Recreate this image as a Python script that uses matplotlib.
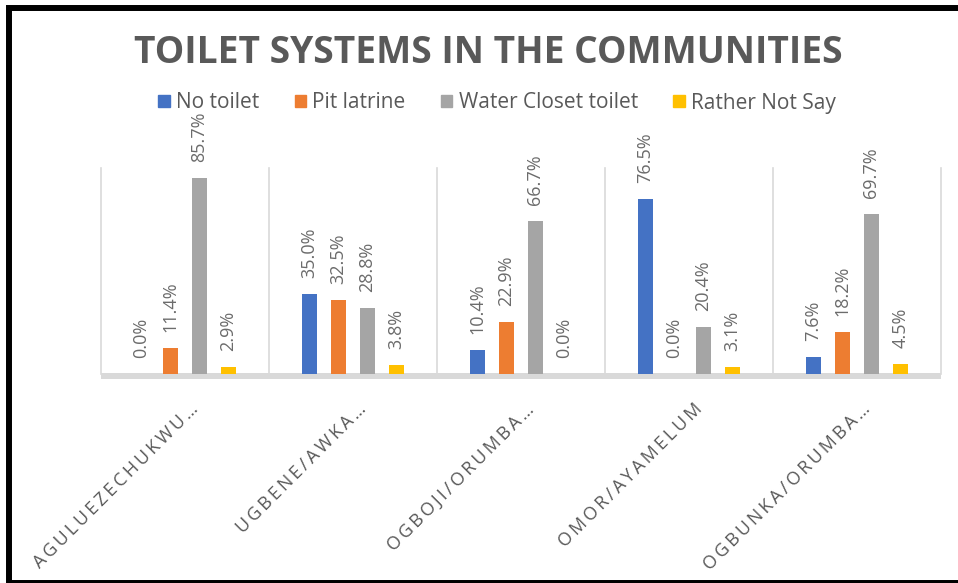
import matplotlib
matplotlib.use("Agg")
import matplotlib.pyplot as plt
from matplotlib.patches import Rectangle
import numpy as np

# Data
communities = ["AGULUEZECHUKWU…", "UGBENE/AWKA…", "OGBOJI/ORUMBA…",
               "OMOR/AYAMELUM", "OGBUNKA/ORUMBA…"]
series_names = ["No toilet", "Pit latrine", "Water Closet toilet", "Rather Not Say"]
no_toilet = [0.0, 35.0, 10.4, 76.5, 7.6]
pit_latrine = [11.4, 32.5, 22.9, 0.0, 18.2]
water_closet = [85.7, 28.8, 66.7, 20.4, 69.7]
rather_not_say = [2.9, 3.8, 0.0, 3.1, 4.5]
series_values = [no_toilet, pit_latrine, water_closet, rather_not_say]
colors = ["#4472C4", "#ED7D31", "#A5A5A5", "#FFC000"]

W, H = 958, 583
fig = plt.figure(figsize=(W / 100, H / 100), dpi=100)
fig.patch.set_facecolor("white")

ax = fig.add_axes([101 / W, 1 - 374 / H, 840 / W, 206 / H])
ax.set_xlim(-0.5, len(communities) - 0.5)
ax.set_ylim(0, 90)

x = np.arange(len(communities))
offsets = [-0.259, -0.086, 0.086, 0.259]
bar_w = 0.09
label_color = "#6b6b6b"

for vals, off, col in zip(series_values, offsets, colors):
    bars = ax.bar(x + off, vals, width=bar_w, color=col, zorder=3)
    for b, v in zip(bars, vals):
        ax.annotate(f"{v:.1f}%", (b.get_x() + b.get_width() / 2, b.get_height()),
                    xytext=(0, 11.5), textcoords="offset points",
                    rotation=90, ha="center", va="bottom",
                    fontsize=13, color=label_color, family="Open Sans",
                    annotation_clip=False)

# Group separators
for sep in np.arange(-0.5, len(communities), 1.0):
    ax.plot([sep, sep], [0, 90], color="#d9d9d9", lw=1.2, zorder=1, clip_on=False)

for side in ["top", "right", "left"]:
    ax.spines[side].set_visible(False)
ax.spines["bottom"].set_color("#d9d9d9")
ax.spines["bottom"].set_linewidth(4.3)
ax.spines["bottom"].set_capstyle("butt")
ax.spines["bottom"].set_position(("outward", 1.5))
ax.set_yticks([])
ax.set_xticks([])

# Category labels, letter-spaced and slanted
thin = "\u2009"
for xi, name in zip(x, communities):
    ax.annotate(thin.join(name), (xi, 0), xytext=(3, -19), textcoords="offset points",
                rotation=45, rotation_mode="anchor", ha="right", va="top",
                fontsize=13, color="#595959", family="Open Sans",
                annotation_clip=False)

fig.text(488 / W, 1 - 53 / H, "TOILET SYSTEMS IN THE COMMUNITIES",
         ha="center", va="center", fontsize=26.7, fontweight="bold",
         color="#595959", family="Open Sans")

handles = [Rectangle((0, 0), 1, 1, color=c) for c in colors]
leg = fig.legend(handles, series_names, loc="center", ncol=4,
                 bbox_to_anchor=(497 / W, 1 - 103 / H), frameon=False,
                 handlelength=0.55, handleheight=0.55, handletextpad=0.3,
                 columnspacing=1.7, prop={"family": "Open Sans", "size": 15})
for t in leg.get_texts():
    t.set_color("#595959")

# Chart frame
fig.patches.append(Rectangle((9 / W, 0), 2, 1 - 8 / H, transform=fig.transFigure,
                             fill=False, ec="black", lw=4.3, zorder=10))

fig.savefig("out.png", dpi=100)
